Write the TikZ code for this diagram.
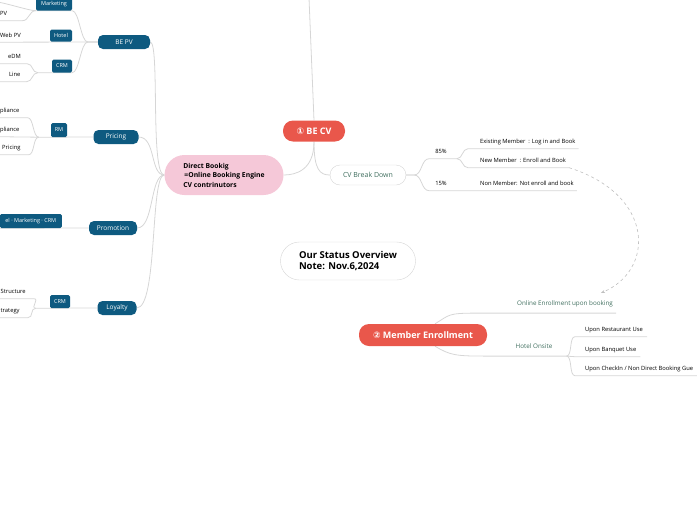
\documentclass[tikz,border=0pt]{standalone}
\usepackage{fontspec}
\setmainfont{Open Sans}
\newfontfamily\circfont{DejaVu Sans}
\usetikzlibrary{arrows.meta,backgrounds}
\definecolor{topicred}{HTML}{E9574B}
\definecolor{topicblue}{HTML}{0E5A80}
\definecolor{topicpink}{HTML}{F5C8D8}
\definecolor{linegray}{HTML}{D6D6D6}
\definecolor{sagegreen}{HTML}{3F6E5E}
\tikzset{
	link/.style={draw=linegray, line width=0.8pt},
	redtopic/.style={fill=topicred, text=white, rounded corners=10pt, inner sep=0pt, font=\bfseries\fontsize{9}{10}\selectfont},
	bluetopic/.style={fill=topicblue, text=white, rounded corners=5pt, inner sep=0pt, minimum height=14pt, font=\fontsize{6.5}{8}\selectfont},
	bluebox/.style={fill=topicblue, text=white, rounded corners=1.5pt, inner xsep=3pt, inner ysep=0pt, minimum height=12pt, font=\fontsize{5.5}{6.5}\selectfont},
	leaf/.style={inner xsep=0pt, inner ysep=4pt, text height=4pt, text depth=1pt, font=\fontsize{5.8}{6.8}\selectfont},
	subtopic/.style={leaf, inner ysep=6pt, text height=4.5pt, text depth=1.3pt, text=sagegreen, font=\fontsize{6.3}{7.3}\selectfont},
}
\begin{document}
\begin{tikzpicture}[x=1pt, y=-1pt]
		\useasboundingbox (0,0) rectangle (697,520);
		%main topics
		\node[redtopic, minimum width=62pt, minimum height=21pt] (becv) at (314,131) {{\circfont ①} BE CV};
		\node[redtopic, minimum width=128pt, minimum height=22pt] (enroll) at (423,335) {{\circfont ②} Member Enrollment};
		\node[fill=topicpink, rounded corners=20pt, minimum width=119pt, minimum height=40pt, align=left, font=\bfseries\fontsize{6.8}{9.5}\selectfont] (direct) at (224,175) {Direct Bookig\\\,=Online Booking Engine\\CV contrinutors};
		\node[draw=linegray, fill=white, rounded corners=10pt, minimum width=76pt, minimum height=20pt, text=sagegreen, font=\fontsize{7}{8}\selectfont] (breakdown) at (368,175) {CV Break Down};
		\node[draw=linegray, fill=white, rounded corners=19pt, minimum width=135pt, minimum height=38pt, align=left, font=\bfseries\fontsize{9.5}{11.5}\selectfont] (status) at (348,261) {Our Status Overview\\Note: Nov.6,2024};
		\coordinate (topend) at (309,-2);
		
		%left side
		\node[bluetopic, minimum width=52pt] (bepv) at (124,42) {BE PV};
		\node[bluetopic, minimum width=45pt] (pricing) at (116,137) {Pricing};
		\node[bluetopic, minimum width=48pt] (promotion) at (113,228) {Promotion};
		\node[bluetopic, minimum width=39pt] (loyalty) at (117,308) {Loyalty};
		\node[bluebox, minimum width=36pt] (marketing) at (54,4.5) {Marketing};
		\node[bluebox, minimum width=22pt] (hotel) at (61,35.5) {Hotel};
		\node[bluebox, minimum width=20pt, minimum height=13pt] (crmpv) at (62,66) {CRM};
		\node[bluebox, minimum width=16pt, minimum height=14pt] (rm) at (59,130) {RM};
		\node[bluebox, anchor=east, minimum width=62pt, minimum height=14pt] (channel) at (62,221) {el · Marketing · CRM};
		\node[bluebox, minimum width=20pt, minimum height=13pt] (crmloy) at (60,301.5) {CRM};
		\node[leaf, anchor=west] (pv) at (0,14) {PV};
		\node[leaf, anchor=west] (webpv) at (0,35.5) {Web PV};
		\node[leaf, anchor=west] (edm) at (8,57) {eDM};
		\node[leaf, anchor=west] (lineleaf) at (9,75) {Line};
		\node[leaf, anchor=west] (compla) at (0,111) {pliance};
		\node[leaf, anchor=west] (complb) at (0,130) {pliance};
		\node[leaf, anchor=west] (pricingleaf) at (2,148) {Pricing};
		\node[leaf, anchor=west] (structure) at (0.5,292) {Structure};
		\node[leaf, anchor=west] (strategy) at (0.5,311) {trategy};
		\coordinate (mktop) at (-4,2);
		
		%right side
		\node[leaf] (p85) at (441,152) {85\%};
		\node[leaf] (p15) at (441,184) {15\%};
		\node[leaf, anchor=west] (existing) at (480,142) {Existing Member\enspace: Log in and Book};
		\node[leaf, anchor=west] (newmem) at (480,161) {New Member\enspace: Enroll and Book};
		\node[leaf, anchor=west] (nonmem) at (480,184) {Non Member: Not enroll and book};
		\node[subtopic] (online) at (565,304) {Online Enrollment upon booking};
		\node[subtopic] (onsite) at (534,347) {Hotel Onsite};
		\node[leaf, anchor=west] (restaurant) at (585,330) {Upon Restaurant Use};
		\node[leaf, anchor=west] (banquet) at (585,350) {Upon Banquet Use};
		\node[leaf, anchor=west] (checkin) at (585,369) {Upon CheckIn / Non Direct Booking Gue};
		
		\begin{scope}[on background layer]
		\draw[link] (becv.north) .. controls (312,60) .. (topend);
		\draw[link] (becv.south) .. controls (314,170) and (296,175) .. (direct.east);
		\draw[link] (becv.south) .. controls (314,170) and (320,175) .. (breakdown.west);
		\draw[link] (direct.west) .. controls (150,175) and (160,42) .. (bepv.east);
		\draw[link] (direct.west) .. controls (150,175) and (156,137) .. (pricing.east);
		\draw[link] (direct.west) .. controls (150,175) and (154,228) .. (promotion.east);
		\draw[link] (direct.west) .. controls (150,175) and (158,308) .. (loyalty.east);
		
		%BE PV
		\draw[link] (bepv.west) -- ++(-10,0) .. controls +(-7,0) and +(7,0) .. (marketing.south east) -- (marketing.south west) .. controls +(-7,0) and +(7,0) .. ([xshift=15pt]pv.south east) -- ([xshift=-2pt]pv.south west);
		\draw[link] (marketing.south west) .. controls +(-7,0) and +(7,0) .. (mktop);
		\draw[link] (bepv.west) -- ([xshift=-4pt]webpv.south west);
		\draw[link] (bepv.west) -- ++(-10,0) .. controls +(-7,0) and +(7,0) .. (crmpv.south east) -- ([xshift=-14pt]crmpv.south west) .. controls +(-6,0) and +(6,0) .. ([xshift=6pt]edm.south east) -- ([xshift=-10pt]edm.south west);
		\draw[link] ([xshift=-14pt]crmpv.south west) .. controls +(-6,0) and +(6,0) .. ([xshift=6pt]lineleaf.south east) -- ([xshift=-10pt]lineleaf.south west);
		%Pricing
		\draw[link] (pricing.west) -- ([xshift=-12pt]rm.south west) .. controls +(-6,0) and +(6,0) .. ([xshift=8pt]compla.south east) -- ([xshift=-2pt]compla.south west);
		\draw[link] ([xshift=-12pt]rm.south west) -- ([xshift=-2pt]complb.south west);
		\draw[link] ([xshift=-12pt]rm.south west) .. controls +(-6,0) and +(6,0) .. ([xshift=8pt]pricingleaf.south east) -- ([xshift=-4pt]pricingleaf.south west);
		%Promotion, Loyalty
		\draw[link] (promotion.west) -- ([xshift=-4pt]channel.south west);
		\draw[link] (loyalty.west) -- ([xshift=-14pt]crmloy.south west) .. controls +(-6,0) and +(6,0) .. ([xshift=8pt]structure.south east) -- ([xshift=-2pt]structure.south west);
		\draw[link] ([xshift=-14pt]crmloy.south west) .. controls +(-6,0) and +(6,0) .. ([xshift=8pt]strategy.south east) -- ([xshift=-2pt]strategy.south west);
		
		%CV break down
		\draw[link] (breakdown.east) -- ++(8,0) .. controls +(8,0) and +(-8,0) .. ([xshift=-6pt]p85.south west) -- ([xshift=10pt]p85.south east);
		\draw[link] (breakdown.east) -- ++(8,0) .. controls +(8,0) and +(-8,0) .. ([xshift=-6pt]p15.south west) -- ([xshift=10pt]p15.south east) -- ([xshift=-12pt]nonmem.south west) -- ([xshift=3pt]nonmem.south east);
		\draw[link] ([xshift=10pt]p85.south east) .. controls +(6,0) and +(-6,0) .. ([xshift=-12pt]existing.south west) -- ([xshift=3pt]existing.south east);
		\draw[link] ([xshift=10pt]p85.south east) .. controls +(6,0) and +(-6,0) .. ([xshift=-12pt]newmem.south west) -- ([xshift=3pt]newmem.south east);
		
		%member enrollment
		\draw[link] ([xshift=12pt]enroll.north) .. controls +(15,-9) and +(-30,0) .. ([xshift=-40pt]online.south west) -- ([xshift=3pt]online.south east);
		\draw[link] ([xshift=12pt]enroll.south) .. controls +(15,9) and +(-30,0) .. ([xshift=-30pt]onsite.south west) -- ([xshift=14pt]onsite.south east);
		\draw[link] ([xshift=14pt]onsite.south east) .. controls +(6,0) and +(-6,0) .. ([xshift=-10pt]restaurant.south west) -- ([xshift=4pt]restaurant.south east);
		\draw[link] ([xshift=14pt]onsite.south east) -- ([xshift=-10pt]banquet.south west) -- ([xshift=4pt]banquet.south east);
		\draw[link] ([xshift=14pt]onsite.south east) .. controls +(6,0) and +(-6,0) .. ([xshift=-10pt]checkin.south west) -- ([xshift=4pt]checkin.south east);
		\end{scope}
		
		%new member leads to enrollment
		\draw[gray!50, line width=0.6pt, dash pattern=on 3pt off 3pt, -{Stealth[length=4pt,width=3pt]}] ([xshift=3pt]newmem.south east) .. controls (655,195) and (655,270) .. ([xshift=-12pt,yshift=2pt]online.north east);
\end{tikzpicture}
\end{document}
